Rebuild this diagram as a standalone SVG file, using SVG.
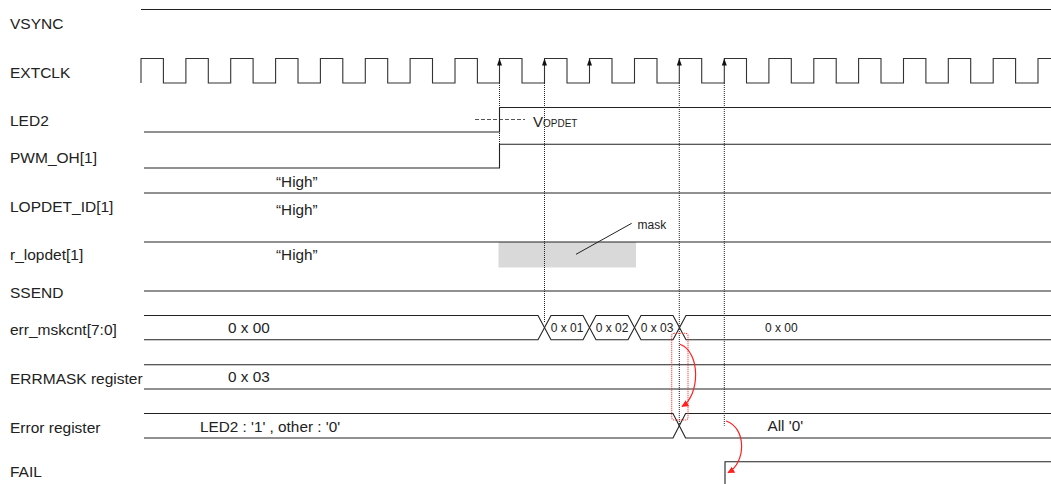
<svg xmlns="http://www.w3.org/2000/svg" xmlns:xlink="http://www.w3.org/1999/xlink" width="1051" height="484" viewBox="0 0 1051 484">
<style>
text{font-family:"Liberation Sans",Arial,sans-serif;fill:#222}
.lbl{font-size:15.5px}
.val{font-size:15.3px}
.sm{font-size:12px}
.sig{fill:none;stroke:#222;stroke-width:1.1}
.clk{fill:none;stroke:#333;stroke-width:1.1}
.dot{fill:none;stroke:#222;stroke-width:1;stroke-dasharray:1 1}
.reddot{fill:none;stroke:#ff2a2a;stroke-width:1.1;stroke-dasharray:1 1}
.red{fill:none;stroke:#ff2020;stroke-width:1.2}
</style>
<defs>
<path id="ah" d="M0,0 L-2.5,7 L2.5,7 Z" fill="#111"/>
<marker id="rarrow" viewBox="0 0 10 10" refX="9" refY="5" markerWidth="7" markerHeight="7" orient="auto" markerUnits="userSpaceOnUse">
<path d="M0,0 L10,5 L0,10 Z" fill="#ff2020"/>
</marker>
</defs>
<rect width="1051" height="484" fill="#fff"/>

<g id="vsync">
<text class="lbl" x="10" y="29">VSYNC</text>
<path class="sig" d="M141,9.5 H1051"/>
</g>

<g id="extclk">
<text class="lbl" x="10" y="78">EXTCLK</text>
<path class="clk" d="M141,83 V58.5 H163.4 V83 H185.9 V58.5 H208.3 V83 H230.7 V58.5 H253.1 V83 H275.6 V58.5 H298 V83 H320.4 V58.5 H342.8 V83 H365.3 V58.5 H387.7 V83 H410.1 V58.5 H432.5 V83 H455 V58.5 H477.4 V83 H499.5 V58.5 H522 V83 H544.5 V58.5 H567 V83 H589.5 V58.5 H612 V83 H634.5 V58.5 H657 V83 H679.3 V58.5 H701.7 V83 H724.3 V58.5 H746.5 V83 H768.9 V58.5 H791.3 V83 H813.8 V58.5 H836.2 V83 H858.6 V58.5 H881 V83 H903.5 V58.5 H925.9 V83 H948.3 V58.5 H970.7 V83 H993.2 V58.5 H1015.6 V83 H1038 V58.5 H1051"/>
<use xlink:href="#ah" x="499.5" y="58.5"/>
<use xlink:href="#ah" x="544.5" y="58.5"/>
<use xlink:href="#ah" x="589.5" y="58.5"/>
<use xlink:href="#ah" x="679.3" y="58.5"/>
<use xlink:href="#ah" x="724.3" y="58.5"/>
</g>

<g id="led2">
<text class="lbl" x="10" y="126">LED2</text>
<path class="sig" d="M144,132 H499.5 V107.5 H1051"/>
<path d="M475,119.5 H525" fill="none" stroke="#555" stroke-width="1" stroke-dasharray="4 2"/>
<text x="533" y="126.5"><tspan font-size="15">V</tspan><tspan font-size="10">OPDET</tspan></text>
</g>

<g id="pwm_oh">
<text class="lbl" x="10" y="162.5">PWM_OH[1]</text>
<path class="sig" d="M144,168 H499.5 V144.3 H1051"/>
<text class="val" x="276" y="186.5">“High”</text>
</g>

<g id="lopdet_id">
<text class="lbl" x="10" y="212">LOPDET_ID[1]</text>
<path class="sig" d="M144,193 H1051"/>
<text class="val" x="276" y="214.5">“High”</text>
</g>

<g id="r_lopdet">
<text class="lbl" x="10" y="260">r_lopdet[1]</text>
<rect x="498.5" y="242" width="137.5" height="25.5" fill="#d9d9d9"/>
<path class="sig" d="M144,242 H1051"/>
<text class="val" x="276" y="259.5">“High”</text>
<path d="M576,254.3 L631.7,223.3" fill="none" stroke="#222" stroke-width="1"/>
<text class="sm" x="637.5" y="229">mask</text>
</g>

<g id="ssend">
<text class="lbl" x="10" y="298">SSEND</text>
<path class="sig" d="M144,291 H1051"/>
</g>

<g id="err_mskcnt">
<text class="lbl" x="10" y="335">err_mskcnt[7:0]</text>
<path class="sig" d="M144,315.5 H538 L551,339.7 H583 L596,315.5 H628 L641,339.7 H673 L686,315.5 H1051"/>
<path class="sig" d="M144,339.7 H538 L551,315.5 H583 L596,339.7 H628 L641,315.5 H673 L686,339.7 H1051"/>
<text class="val" x="228" y="333">0 x 00</text>
<text class="sm" x="567" y="332" text-anchor="middle">0 x 01</text>
<text class="sm" x="612" y="332" text-anchor="middle">0 x 02</text>
<text class="sm" x="657" y="332" text-anchor="middle">0 x 03</text>
<text class="sm" x="765" y="332">0 x 00</text>
</g>

<g id="errmask">
<text class="lbl" x="10" y="384">ERRMASK register</text>
<path class="sig" d="M144,364.7 H1051 M144,389 H1051"/>
<text class="val" x="228" y="382">0 x 03</text>
</g>

<g id="error_register">
<text class="lbl" x="10" y="433">Error register</text>
<path class="sig" d="M144,413.5 H673 L685.6,438 H1051"/>
<path class="sig" d="M144,438 H673 L685.6,413.5 H1051"/>
<text class="val" x="200" y="431.5">LED2 : '1' , other : '0'</text>
<text class="val" x="767.5" y="430.7">All '0'</text>
</g>

<g id="fail">
<text class="lbl" x="10" y="477">FAIL</text>
<path class="sig" d="M725,486 V461.7 H1051"/>
</g>

<g id="connectors">
<path class="dot" d="M499.5,83 V168"/>
<path class="dot" d="M544.5,83 V322"/>
<path class="dot" d="M679.3,83 V426"/>
<path class="dot" d="M724.3,83 V425.7" stroke="#555"/>
<rect class="reddot" x="671.7" y="333.3" width="16.3" height="86.7" rx="2.5"/>
<path class="red" d="M680,344.3 C701,352 700,396 682,406.5" marker-end="url(#rarrow)"/>
<path class="red" d="M726,421 C747,428 746,463 728,472.7" marker-end="url(#rarrow)"/>
</g>
</svg>
